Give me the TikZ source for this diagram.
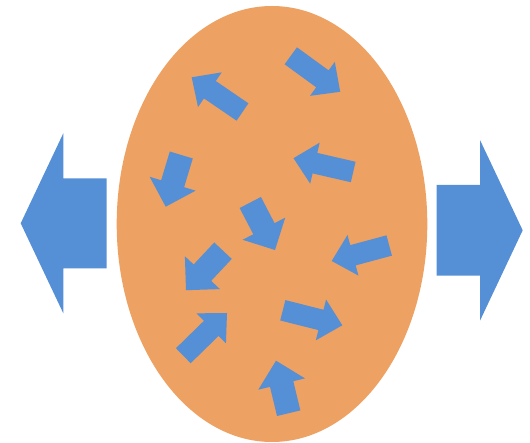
\documentclass[tikz,border=0pt]{standalone}
\usetikzlibrary{calc}
\definecolor{eggfill}{HTML}{EDA162}
\definecolor{arrowblue}{HTML}{558FD5}
\tikzset{
  blue shape/.style={fill=arrowblue},
  egg/.style={fill=eggfill}
}
% block arrow from tail centre #1 to tip #2;
% #3 half shaft width, #4 half head width, #5 head length
\newcommand\blockarrow[5]{%
  \coordinate (ba-t) at (#1);
  \coordinate (ba-p) at (#2);
  \coordinate (ba-h) at ($(ba-p)!#5!(ba-t)$);
  \fill[blue shape] ($(ba-t)!#3!90:(ba-p)$) -- ($(ba-h)!#3!90:(ba-p)$)
    -- ($(ba-h)!#4!90:(ba-p)$) -- (ba-p) -- ($(ba-h)!#4!-90:(ba-p)$)
    -- ($(ba-h)!#3!-90:(ba-p)$) -- ($(ba-t)!#3!-90:(ba-p)$) -- cycle;}
\newcommand\stdarrow[2]{\blockarrow{#1}{#2}{10.5pt}{21pt}{22pt}}
\newcommand\widearrow[2]{\blockarrow{#1}{#2}{12pt}{24pt}{24pt}}
\begin{document}
\begin{tikzpicture}[x=1pt,y=-1pt]
  \useasboundingbox (0,0) rectangle (530,443);
  % the oval
  \fill[egg] (272,224) ellipse [x radius=155.3, y radius=218];
  % large arrows on both sides
  \fill[blue shape] (20.7,223.3) -- (63.3,133.3) -- (63.3,178.3) -- (106.7,178.3)
    -- (106.7,268.3) -- (63.3,268.3) -- (63.3,313.3) -- cycle;
  \fill[blue shape] (522.7,230.3) -- (480,320.7) -- (480,275.7) -- (436.7,275.7)
    -- (436.7,185) -- (480,185) -- (480,140) -- cycle;
  % small arrows inside the oval
  \stdarrow{290.8,55.8}{340.2,91.8}
  \stdarrow{242.5,112}{191.7,77.3}
  \widearrow{181.3,155}{165.7,206.7}
  \stdarrow{353.2,172}{293.5,158.2}
  \widearrow{250.3,202.5}{275,250}
  \stdarrow{389.2,245.5}{331.7,261}
  \widearrow{223,250.7}{186,290.2}
  \stdarrow{183.3,355.7}{227,313}
  \stdarrow{282.8,310.3}{342.3,325.3}
  \widearrow{288.7,413.2}{276,360.7}
\end{tikzpicture}
\end{document}
